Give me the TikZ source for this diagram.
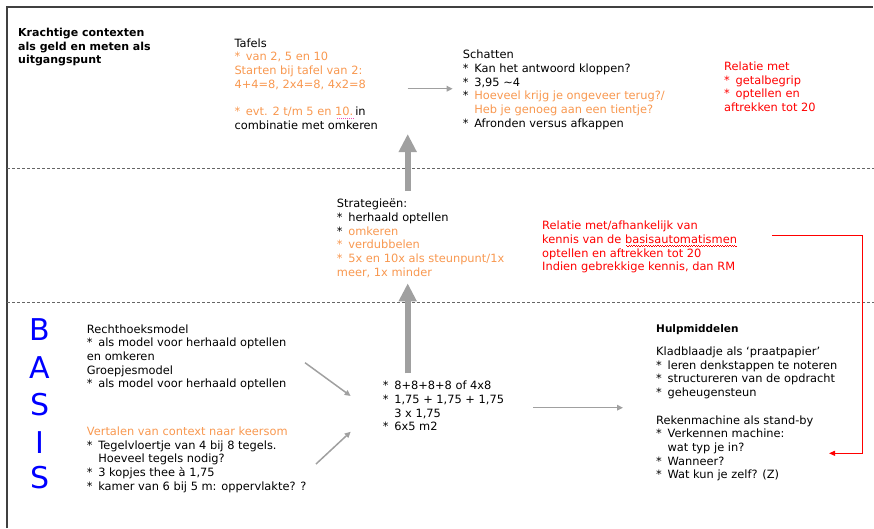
\documentclass[tikz,border=0pt]{standalone}
\usepackage{fontspec}
\setmainfont{DejaVu Sans}
\usetikzlibrary{arrows.meta}
\definecolor{orng}{RGB}{248,152,80}
\definecolor{arrgray}{RGB}{160,160,160}
\newcommand\fs{\fontsize{11.4}{13.7}\selectfont}
\newcommand\bul{\makebox[11.4pt][l]{*}}
\newcommand\ind{\hspace*{11.4pt}}
\newcommand\org[1]{\textcolor{orng}{#1}}
\newcommand\dotul[1]{\setbox0\hbox{#1}\rlap{\usebox0}\textcolor{magenta!70}{\leaders\hbox to 2pt{\hss\rule[-2.6pt]{1pt}{0.6pt}\hss}\hskip\wd0}}
\newcommand\squig[1]{\setbox0\hbox{#1}\rlap{\usebox0}\textcolor{red}{\leaders\hbox to 2.4pt{\rule[-2.4pt]{1.2pt}{0.6pt}\rule[-3.0pt]{1.2pt}{0.6pt}}\hskip\wd0}}
\begin{document}
\begin{tikzpicture}[x=1pt,y=-1pt,
  txt/.style={anchor=north west,inner sep=0pt,align=left,font=\fs},
  basis/.style={anchor=base,inner sep=0pt,text=blue,font=\fontsize{30}{30}\selectfont},
  frame/.style={line width=1.4pt,draw=black!75},
  dline/.style={line width=0.9pt,draw=black!60,dash pattern=on 3pt off 2pt},
  thinarr/.style={line width=1.5pt,draw=arrgray,-{Triangle[length=6pt,width=5.5pt]}},
  bigarrow/.style={line width=6pt,draw=arrgray,-{Triangle[length=18pt,width=17pt]}},
  redarr/.style={line width=1pt,draw=red,-{Triangle[length=6pt,width=5pt]}}]
\useasboundingbox (0,0) rectangle (874,528);

% frame and separators
\draw[frame] (7,528) -- (7,7) -- (873,7);
\draw[dline] (7,168) -- (874,168);
\draw[dline] (7,302) -- (874,302);

% top band
\node[txt,font=\fontsize{11}{13.7}\selectfont\bfseries] (title) at (18,26.7)
  {\strut Krachtige contexten\\als geld en meten als\\uitgangspunt};
\node[txt] (tafels) at (234.3,37.3)
  {\strut Tafels\\\org{\bul van 2, 5 en 10}\\\org{Starten bij tafel van 2:}\\\org{4+4=8, 2x4=8, 4x2=8}\\[13.7pt]\org{\bul evt. 2 t/m 5 en \dotul{10.\,}}in\\combinatie met omkeren};
\node[txt] (schat) at (462.7,49)
  {\strut Schatten\\\bul Kan het antwoord kloppen?\\\bul 3,95 \textasciitilde{}4\\\bul\org{Hoeveel krijg je ongeveer terug?/}\\\ind\org{Heb je genoeg aan een tientje?}\\\bul Afronden versus afkappen};
\node[txt,text=red] (rel1) at (724,60.7)
  {\strut Relatie met\\\bul getalbegrip\\\bul optellen en\\aftrekken tot 20};

% middle band
\node[txt] (strat) at (336.7,198)
  {\strut Strategieën:\\\bul herhaald optellen\\\bul\org{omkeren}\\\org{\bul verdubbelen}\\\org{\bul 5x en 10x als steunpunt/1x}\\\org{meer, 1x minder}};
\node[txt,text=red] (rel2) at (542,220)
  {\strut Relatie met/afhankelijk van\\kennis van de \squig{basisautomatismen}\\optellen en aftrekken tot 20\\Indien gebrekkige kennis, dan RM};

% bottom band
\node[basis] (b1) at (40,340) {B};
\node[basis] (b2) at (40,378) {A};
\node[basis] (b3) at (40,415) {S};
\node[basis] (b4) at (40,453) {I};
\node[basis] (b5) at (40,488) {S};
\node[txt] (recht) at (86.7,323.3)
  {\strut Rechthoeksmodel\\\bul als model voor herhaald optellen\\en omkeren\\Groepjesmodel\\\bul als model voor herhaald optellen};
\node[txt] (vert) at (86.7,425.7)
  {\strut\org{Vertalen van context naar keersom}\\\bul Tegelvloertje van 4 bij 8 tegels.\\\ind Hoeveel tegels nodig?\\\bul 3 kopjes thee à 1,75\\\bul kamer van 6 bij 5 m: oppervlakte? ?};
\node[txt] (calc) at (382.7,380)
  {\strut\bul 8+8+8+8 of 4x8\\\bul 1,75 + 1,75 + 1,75\\\ind 3 x 1,75\\\bul 6x5 m2};
\node[txt,font=\fontsize{10.5}{13.7}\selectfont\bfseries] (hulp) at (656,322.3) {\strut Hulpmiddelen};
\node[txt] (klad) at (656,345.7)
  {\strut Kladblaadje als ‘praatpapier’\\\bul leren denkstappen te noteren\\\bul structureren van de opdracht\\\bul geheugensteun\\[13.7pt]Rekenmachine als stand-by\\\bul Verkennen machine:\\\ind wat typ je in?\\\bul Wanneer?\\\bul Wat kun je zelf? (Z)};

% connector end points
\coordinate (ts) at (407.7,88.7);   \coordinate (te) at (452.7,88.7);
\coordinate (u1s) at (407.7,191);   \coordinate (u1e) at (407.7,134);
\coordinate (u2s) at (407.7,373.3); \coordinate (u2e) at (407.7,283.3);
\coordinate (rs) at (305,362.7);    \coordinate (re) at (350.7,396);
\coordinate (vs) at (316,464);      \coordinate (ve) at (350.7,431.7);
\coordinate (cs) at (533,407.7);    \coordinate (ce) at (623,407.7);
\coordinate (k0) at (772,235.5);    \coordinate (k1) at (862,235.5);
\coordinate (k2) at (862,453.3);    \coordinate (k3) at (829,453.3);

% connectors
\draw[thinarr] (ts) -- (te);
\draw[bigarrow] (u1s) -- (u1e);
\draw[bigarrow] (u2s) -- (u2e);
\draw[thinarr] (rs) -- (re);
\draw[thinarr] (vs) -- (ve);
\draw[thinarr] (cs) -- (ce);
\draw[redarr] (k0) -- (k1) -- (k2) -- (k3);
\end{tikzpicture}
\end{document}
